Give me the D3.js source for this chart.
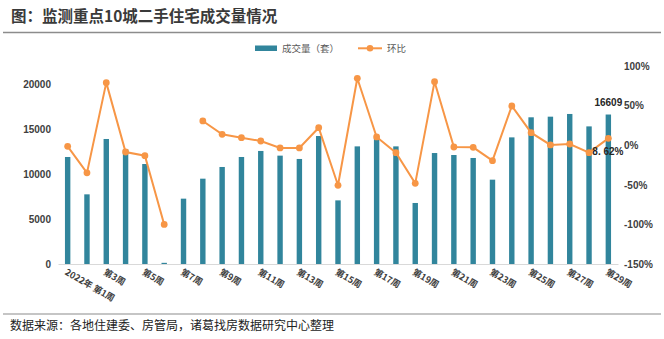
<!DOCTYPE html>
<html><head><meta charset="utf-8">
<script src="https://cdn.jsdelivr.net/npm/d3@7"></script>
<style>
html,body{margin:0;padding:0;background:#fff;}
svg{display:block;}
</style></head>
<body>
<svg id="c" width="664" height="339"></svg>
<script>
const weeks = d3.range(1, 30).map(i => "第" + i + "周");
const volumes = [11890, 7740, 13890, 12740, 11110, 130, 7260, 9480, 10780, 11890, 12560, 12040, 11670, 14220, 7070, 13070, 13960, 13070, 6780, 12330, 12110, 11780, 9370, 14070, 16300, 16370, 16670, 15290, 16609];
const ratios = [-1.4, -34.9, 79, -8.6, -13.2, -100, null, 30.6, 13.7, 9.5, 5.3, -3.5, -3.5, 22.1, -50.6, 84.5, 10.4, -9.4, -48.2, 80.2, -2.3, -2.7, -19.5, 49.5, 15.8, 0.3, 1.5, -9.4, 8.62];
const leftTicks = [0, 5000, 10000, 15000, 20000];
const rightTicks = [-150, -100, -50, 0, 50, 100];
const xTickLabels = {"第1周": "2022年 第1周"};
const titleText = "图：监测重点10城二手住宅成交量情况";
const sourceText = "数据来源：各地住建委、房管局，诸葛找房数据研究中心整理";
const legendNames = ["成交量（套）", "环比"];

const svg = d3.select("#c");
const barColor = "#31859C", lineColor = "#F79646";
const cjk = "'Noto Sans CJK SC','Noto Sans',sans-serif";
const latin = "'Liberation Sans',Arial,sans-serif";

const x = d3.scaleBand().domain(weeks).range([58, 618]).paddingInner(0.72).paddingOuter(0.36);
const y = d3.scaleLinear().domain([0, 22000]).range([264, 66]);
const yR = d3.scaleLinear().domain([-150, 100]).range([264, 66]);
const cx = w => x(w) + x.bandwidth() / 2;

// title
svg.append("text").attr("x", 11).attr("y", 21.5).text(titleText)
  .attr("font-family", cjk).attr("font-weight", "bold").attr("font-size", 15.5).attr("fill", "#3a3a3a");
svg.append("line").attr("x1", 3).attr("x2", 661).attr("y1", 32.5).attr("y2", 32.5)
  .attr("stroke", "#8c8c8c").attr("stroke-width", 1.5);

// legend
const lg = svg.append("g");
lg.append("rect").attr("x", 255).attr("y", 45.5).attr("width", 22).attr("height", 5.5).attr("fill", barColor);
lg.append("text").attr("x", 282).attr("y", 52).text(legendNames[0])
  .attr("font-family", cjk).attr("font-size", 9.5).attr("fill", "#595959");
lg.append("line").attr("x1", 358).attr("x2", 382).attr("y1", 48.3).attr("y2", 48.3).attr("stroke", lineColor).attr("stroke-width", 2);
lg.append("circle").attr("cx", 370).attr("cy", 48.3).attr("r", 3.3).attr("fill", lineColor);
lg.append("text").attr("x", 387).attr("y", 52).text(legendNames[1])
  .attr("font-family", cjk).attr("font-size", 9.5).attr("fill", "#595959");

// left axis
const la = svg.append("g").attr("transform", "translate(58,0)")
  .call(d3.axisLeft(y).tickValues(leftTicks).tickSize(0).tickPadding(7).tickFormat(d3.format("d")));
la.select(".domain").remove();
la.selectAll("text").attr("font-family", latin).attr("font-size", 10).attr("font-weight", "bold").attr("fill", "#404040");

// right axis
const ra = svg.append("g").attr("transform", "translate(618,0)")
  .call(d3.axisRight(yR).tickValues(rightTicks).tickSize(0).tickPadding(6).tickFormat(d => d + "%"));
ra.select(".domain").remove();
ra.selectAll("text").attr("font-family", latin).attr("font-size", 10).attr("font-weight", "bold").attr("fill", "#404040");

// bars
svg.append("g").selectAll("rect").data(weeks).join("rect")
  .attr("x", d => x(d)).attr("width", x.bandwidth())
  .attr("y", (d, i) => y(volumes[i])).attr("height", (d, i) => y(0) - y(volumes[i]))
  .attr("fill", barColor);

// x axis
const xa = svg.append("g").attr("transform", "translate(0,264)")
  .call(d3.axisBottom(x).tickValues(weeks.filter((d, i) => i % 2 === 0)).tickSize(0).tickFormat(d => xTickLabels[d] || d));
xa.select(".domain").attr("stroke", "#d9d9d9").attr("stroke-width", 1);
xa.selectAll("text")
  .attr("font-family", cjk).attr("font-size", 9).attr("font-weight", "bold").attr("fill", "#404040")
  .attr("text-anchor", "start").attr("x", -4).attr("y", 0).attr("dy", 0)
  .attr("transform", "translate(0,12) rotate(30)");

// line
const line = d3.line().defined((d, i) => ratios[i] !== null)
  .x(d => cx(d)).y((d, i) => yR(ratios[i]));
svg.append("path").datum(weeks).attr("d", line).attr("fill", "none")
  .attr("stroke", lineColor).attr("stroke-width", 2);
svg.append("g").selectAll("circle").data(weeks.filter((d, i) => ratios[i] !== null)).join("circle")
  .attr("cx", d => cx(d)).attr("cy", d => yR(ratios[weeks.indexOf(d)])).attr("r", 3.4)
  .attr("fill", lineColor);

// data labels
const last = weeks[weeks.length - 1];
svg.append("text").attr("x", cx(last)).attr("y", y(volumes[volumes.length - 1]) - 9)
  .attr("text-anchor", "middle").text(volumes[volumes.length - 1])
  .attr("font-family", latin).attr("font-size", 10).attr("font-weight", "bold").attr("fill", "#262626");
svg.append("text").attr("x", cx(last) - 16).attr("y", yR(ratios[ratios.length - 1]) + 17)
  .text("8. 62%")
  .attr("font-family", latin).attr("font-size", 10).attr("font-weight", "bold").attr("fill", "#262626");

// footer
svg.append("line").attr("x1", 3).attr("x2", 661).attr("y1", 314).attr("y2", 314)
  .attr("stroke", "#8c8c8c").attr("stroke-width", 1.2);
svg.append("text").attr("x", 10).attr("y", 329.5).text(sourceText)
  .attr("font-family", cjk).attr("font-size", 12).attr("fill", "#222");
</script>
</body></html>
